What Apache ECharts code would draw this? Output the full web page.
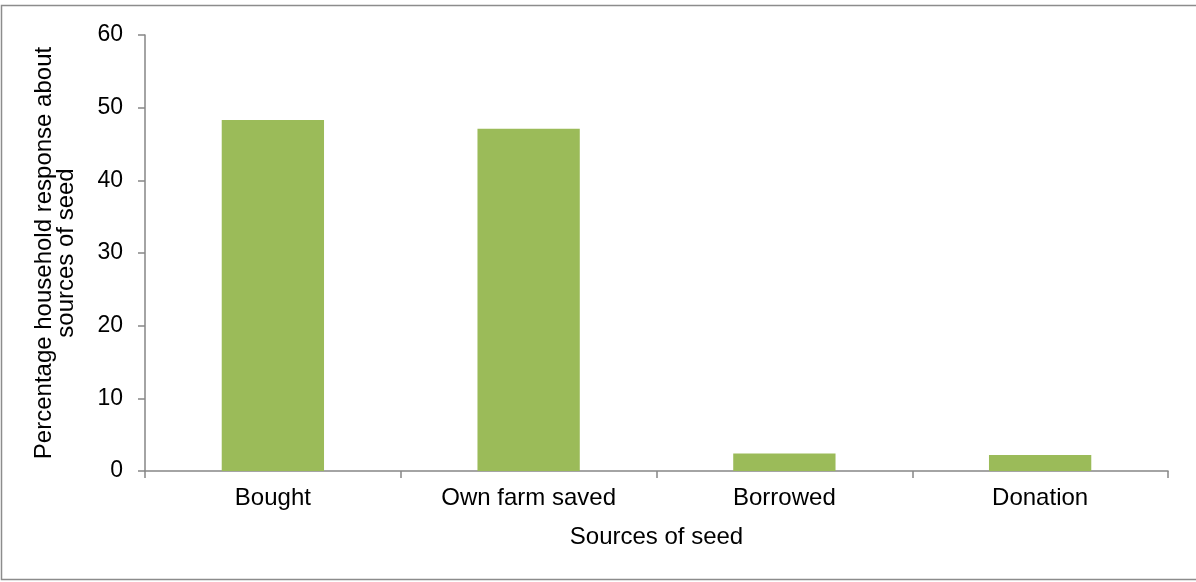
<!DOCTYPE html>
<html>
<head>
<meta charset="utf-8">
<script src="https://cdn.jsdelivr.net/npm/echarts@6/dist/echarts.min.js"></script>
<style>
html,body{margin:0;padding:0;background:#fff;}
#chart{width:1196px;height:582px;}
</style>
</head>
<body>
<div id="chart"></div>
<script>
const categories = ['Bought', 'Own farm saved', 'Borrowed', 'Donation'];
const values = [48.3, 47.1, 2.4, 2.2];
const yTicks = [0, 10, 20, 30, 40, 50, 60];

const chart = echarts.init(document.getElementById('chart'));
const font = '"Liberation Sans", Arial, sans-serif';
chart.setOption({
  animation: false,
  backgroundColor: '#fff',
  graphic: [{
    type: 'rect',
    shape: {x: 1.5, y: 5.5, width: 1300, height: 574},
    style: {fill: 'none', stroke: '#8c8c8c', lineWidth: 1.5},
    silent: true
  }],
  grid: {left: 145, right: 28, top: 35, bottom: 111, containLabel: false},
  xAxis: {
    type: 'category',
    data: categories,
    name: 'Sources of seed',
    nameLocation: 'middle',
    nameGap: 54,
    nameTextStyle: {fontFamily: font, fontSize: 24, color: '#000', verticalAlign: 'top'},
    axisLine: {lineStyle: {color: '#868686', width: 1.5}},
    axisTick: {show: true, length: 7, lineStyle: {color: '#868686', width: 1.5}},
    axisLabel: {fontFamily: font, fontSize: 24, color: '#000', margin: 15}
  },
  yAxis: {
    type: 'value',
    min: yTicks[0],
    max: yTicks[yTicks.length - 1],
    interval: 10,
    name: 'Percentage household response about\nsources of seed',
    nameLocation: 'middle',
    nameRotate: 90,
    nameGap: 68,
    nameTextStyle: {fontFamily: font, fontSize: 24, color: '#000', lineHeight: 22, align: 'center'},
    axisLine: {show: true, lineStyle: {color: '#868686', width: 1.5}},
    axisTick: {show: true, length: 7, lineStyle: {color: '#868686', width: 1.5}},
    splitLine: {show: false},
    axisLabel: {fontFamily: font, fontSize: 23, color: '#000', margin: 22}
  },
  series: [{
    type: 'bar',
    data: values,
    barWidth: '40%',
    itemStyle: {color: '#9BBB59'}
  }]
});
</script>
</body>
</html>
